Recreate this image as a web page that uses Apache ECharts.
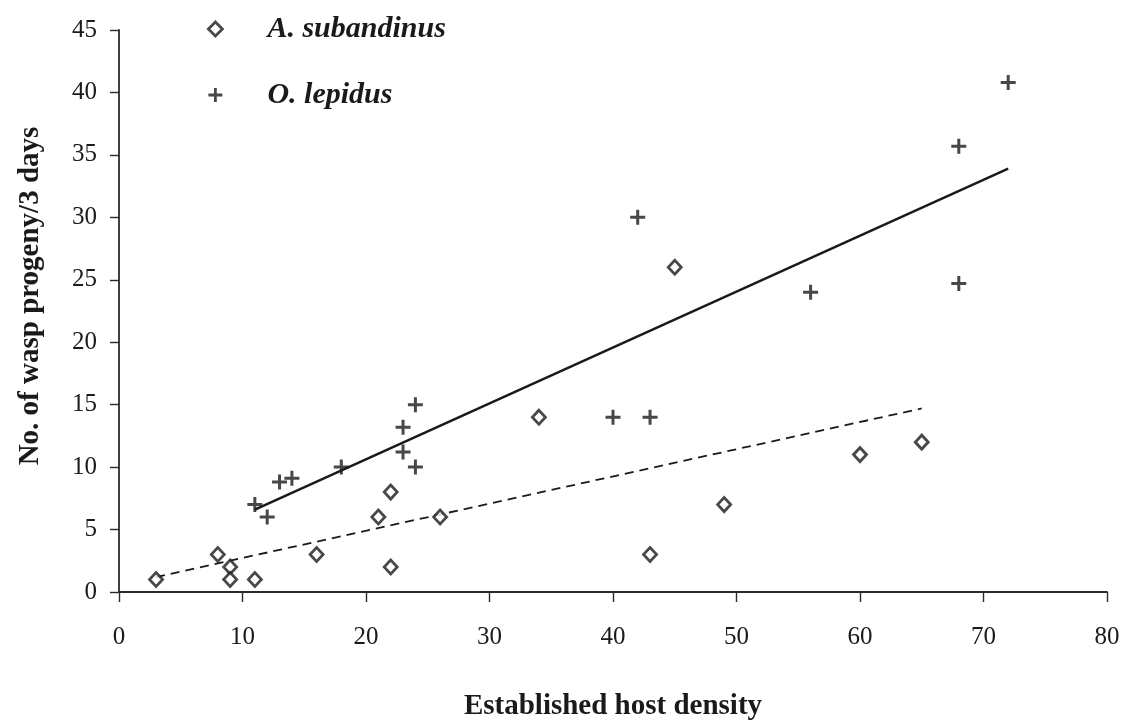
<!DOCTYPE html>
<html>
<head>
<meta charset="utf-8">
<script src="https://cdn.jsdelivr.net/npm/echarts@6/dist/echarts.min.js"></script>
<style>
  html, body { margin: 0; padding: 0; background: #fff; }
  #chart { width: 1124px; height: 721px; }
</style>
</head>
<body>
<div id="chart"></div>
<script>
// Progeny counts per host density for the two parasitoid species
const subandinusX = [3, 8, 9, 9, 11, 16, 21, 22, 22, 26, 34, 43, 45, 49, 60, 65];
const subandinusY = [1, 3, 2, 1, 1, 3, 6, 8, 2, 6, 14, 3, 26, 7, 11, 12];
const lepidusX = [11, 12, 13, 14, 18, 23, 23, 24, 24, 40, 43, 42, 56, 68, 68, 72];
const lepidusY = [7, 6, 8.8, 9.1, 10, 13.2, 11.2, 15, 10, 14, 14, 30, 24, 35.7, 24.7, 40.8];

// Fitted trend lines (end points)
const subandinusFitX = [3, 65];
const subandinusFitY = [1.2, 14.7];
const lepidusFitX = [11, 72];
const lepidusFitY = [6.6, 33.9];

const xTicks = { min: 0, max: 80, interval: 10 };
const yTicks = { min: 0, max: 45, interval: 5 };

const speciesNames = ['A. subandinus', 'O. lepidus'];

const ink = '#1a1a1a';
const axisInk = '#2a2a2a';
const serif = '"Liberation Serif", "DejaVu Serif", serif';
const plusPath = 'path://M5.6,0 H8.4 V5.6 H14 V8.4 H8.4 V14 H5.6 V8.4 H0 V5.6 H5.6 Z';

const pairs = (xs, ys) => xs.map((x, i) => [x, ys[i]]);

const chart = echarts.init(document.getElementById('chart'), null, { renderer: 'canvas' });
chart.setOption({
  backgroundColor: '#fff',
  animation: false,
  grid: { left: 119, right: 17, top: 30, bottom: 129, containLabel: false, outerBoundsMode: 'none' },
  legend: {
    orient: 'vertical',
    left: 202,
    top: 9,
    itemGap: 36,
    itemWidth: 14,
    itemHeight: 14,
    data: [
      { name: speciesNames[0], itemStyle: { borderWidth: 2.8, borderColor: ink, color: '#fff' } },
      { name: speciesNames[1] }
    ],
    textStyle: {
      fontFamily: serif,
      fontSize: 30,
      fontWeight: 'bold',
      fontStyle: 'italic',
      color: ink,
      padding: [0, 0, 0, 40],
      lineHeight: 28
    }
  },
  xAxis: {
    type: 'value',
    min: xTicks.min, max: xTicks.max, interval: xTicks.interval,
    name: 'Established host density',
    nameLocation: 'middle',
    nameGap: 100,
    nameTextStyle: { fontFamily: serif, fontSize: 29, fontWeight: 'bold', color: ink },
    axisLine: { show: true, onZero: false, lineStyle: { color: axisInk, width: 1.8 } },
    axisTick: { show: true, length: 10, lineStyle: { color: axisInk, width: 1.4 } },
    axisLabel: { fontFamily: serif, fontSize: 25, color: ink, margin: 33 },
    splitLine: { show: false }
  },
  yAxis: {
    type: 'value',
    min: yTicks.min, max: yTicks.max, interval: yTicks.interval,
    name: 'No. of wasp progeny/3 days',
    nameLocation: 'middle',
    nameGap: 74,
    nameRotate: 90,
    nameTextStyle: { fontFamily: serif, fontSize: 29, fontWeight: 'bold', color: ink, padding: [0, 0, 0, 30] },
    axisLine: { show: true, onZero: false, lineStyle: { color: axisInk, width: 1.8 } },
    axisTick: { show: true, length: 9, lineStyle: { color: axisInk, width: 1.4 } },
    axisLabel: { fontFamily: serif, fontSize: 25, color: ink, margin: 22 },
    splitLine: { show: false }
  },
  series: [
    {
      name: speciesNames[0],
      type: 'scatter',
      data: pairs(subandinusX, subandinusY),
      symbol: 'diamond',
      symbolSize: [13, 14],
      itemStyle: { color: '#fff', borderColor: ink, borderWidth: 2.8 },
      z: 3
    },
    {
      name: speciesNames[1],
      type: 'scatter',
      data: pairs(lepidusX, lepidusY),
      symbol: plusPath,
      symbolSize: 15,
      itemStyle: { color: ink },
      z: 3
    },
    {
      name: 'subandinus-fit',
      type: 'line',
      data: pairs(subandinusFitX, subandinusFitY),
      showSymbol: false,
      symbol: 'none',
      lineStyle: { color: ink, width: 1.8, type: [9, 6] },
      z: 2
    },
    {
      name: 'lepidus-fit',
      type: 'line',
      data: pairs(lepidusFitX, lepidusFitY),
      showSymbol: false,
      symbol: 'none',
      lineStyle: { color: ink, width: 2.5 },
      z: 2
    }
  ]
});
</script>
</body>
</html>
